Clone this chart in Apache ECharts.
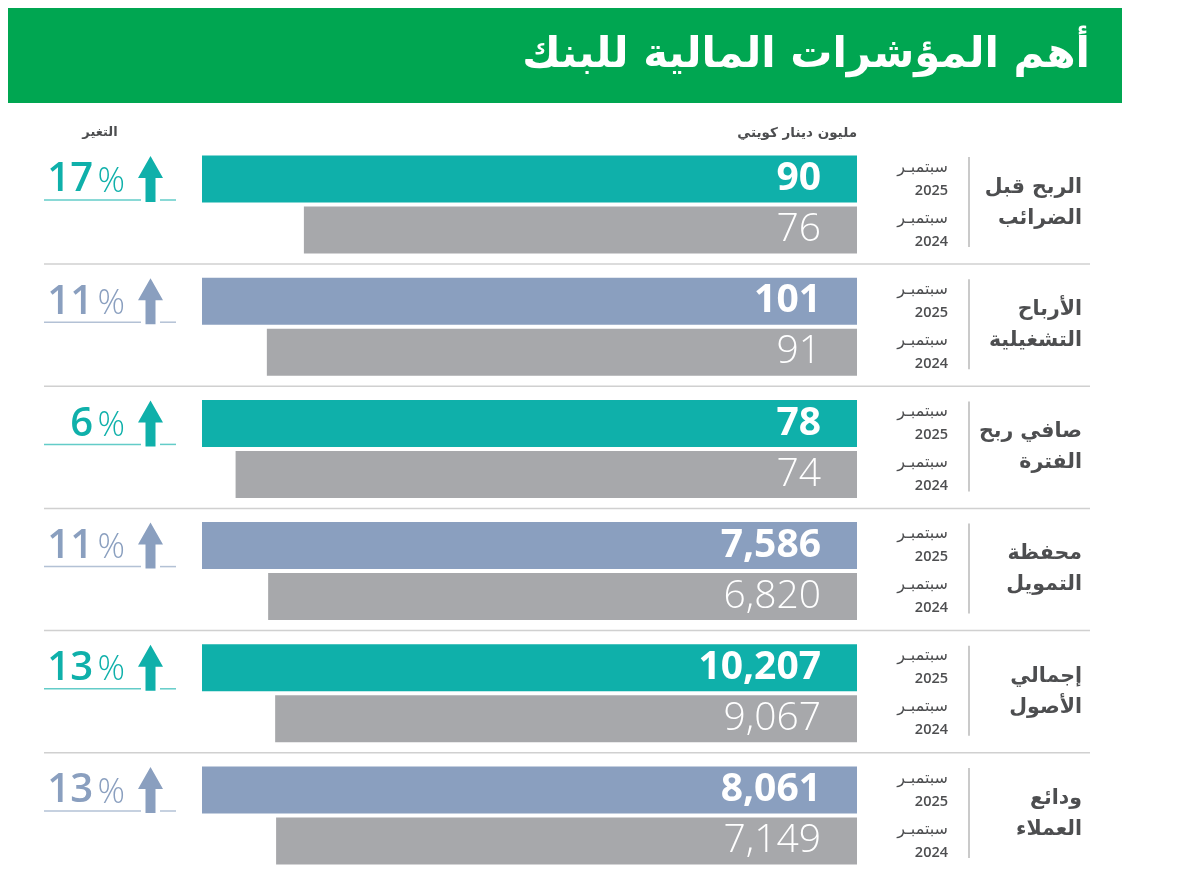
<!DOCTYPE html>
<html>
<head>
<meta charset="utf-8">
<script src="https://cdn.jsdelivr.net/npm/echarts@6/dist/echarts.min.js"></script>
<style>html,body{margin:0;padding:0;background:#fff;}#c{width:1200px;height:871px;}</style>
</head>
<body>
<div id="c"></div>
<script>
const titleText = 'أهم المؤشرات المالية للبنك';
const unitText = 'مليون دينار كويتي';
const changeHeader = 'التغير';
const categories = ['الربح قبل\nالضرائب', 'الأرباح\nالتشغيلية', 'صافي ربح\nالفترة', 'محفظة\nالتمويل', 'إجمالي\nالأصول', 'ودائع\nالعملاء'];
const periodMonth = 'سبتمبـر';
const periodYears = ['2025', '2024'];
const values2025 = [90, 101, 78, 7586, 10207, 8061];
const values2024 = [76, 91, 74, 6820, 9067, 7149];
const changePct = [17, 11, 6, 11, 13, 13];

const TEAL = '#0fb0aa', BLUE = '#8a9fbf', GRAY = '#a7a8ab';
const rowColors = [TEAL, BLUE, TEAL, BLUE, TEAL, BLUE];
const PITCH = 122.2, BAR_TOP0 = 156;
const AR = "'DejaVu Sans', sans-serif";
const NUM = "'Open Sans', sans-serif";
const TXT = '#4d4e50';

const grids = [], xAxes = [], yAxes = [], series = [], graphics = [];

graphics.push({type: 'rect', shape: {x: 8, y: 8, width: 1114, height: 95}, style: {fill: '#00a651'}, z: 0});
graphics.push({type: 'text', x: 1090, y: 56, style: {text: titleText, fill: '#fff', font: "bold 42px " + AR, textAlign: 'right', textVerticalAlign: 'middle'}});
graphics.push({type: 'text', x: 857, y: 133, style: {text: unitText, fill: TXT, font: "bold 13.5px " + AR, textAlign: 'right', textVerticalAlign: 'middle'}});
graphics.push({type: 'text', x: 100, y: 133, style: {text: changeHeader, fill: TXT, font: "bold 13px " + AR, textAlign: 'center', textVerticalAlign: 'middle'}});

categories.forEach((cat, i) => {
  const barTop = BAR_TOP0 + i * PITCH;
  const color = rowColors[i];
  grids.push({left: 202, right: 343, top: barTop - 2.5, height: 102});
  xAxes.push({gridIndex: i, type: 'value', inverse: true, min: 0, max: 'dataMax', show: false});
  yAxes.push({
    gridIndex: i, type: 'category', data: periodYears, inverse: true, position: 'right',
    axisLine: {show: false, onZero: false}, axisTick: {show: false}, splitLine: {show: false},
    axisLabel: {
      margin: 91, align: 'right', verticalAlign: 'middle',
      formatter: y => '{m|' + periodMonth + '}\n{y|' + y + '}',
      rich: {
        m: {fontFamily: AR, fontSize: 16, color: TXT, lineHeight: 23, align: 'right'},
        y: {fontFamily: NUM, fontSize: 14.5, fontWeight: 600, color: TXT, lineHeight: 23, align: 'right'}
      }
    }
  });
  series.push({
    type: 'bar', xAxisIndex: i, yAxisIndex: i, barWidth: 47, silent: true,
    data: [
      {value: values2025[i], itemStyle: {color: color},
       label: {fontFamily: NUM, fontWeight: 700, fontSize: 39}},
      {value: values2024[i], itemStyle: {color: GRAY},
       label: {fontFamily: NUM, fontWeight: 300, fontSize: 39}}
    ],
    label: {show: true, position: 'insideRight', distance: 36, color: '#fff',
      formatter: p => p.value.toLocaleString('en-US')}
  });

  // category name and vertical divider
  graphics.push({type: 'line', shape: {x1: 969, y1: barTop + 1, x2: 969, y2: barTop + 91}, style: {stroke: '#b8b8b8', lineWidth: 1.5}});
  graphics.push({type: 'text', x: 1082, y: barTop + 47, style: {text: cat, fill: TXT, font: "bold 20.5px " + AR, textAlign: 'right', textVerticalAlign: 'middle', lineHeight: 31}});

  // change indicator
  graphics.push({type: 'text', x: 93, y: barTop + 44, style: {
    text: String(changePct[i]), fill: color, font: "600 40px " + NUM, textAlign: 'right', textVerticalAlign: 'bottom'}});
  graphics.push({type: 'text', x: 97.5, y: barTop + 43, style: {
    text: '%', fill: color, font: "300 34px " + NUM, textAlign: 'left', textVerticalAlign: 'bottom'}});
  graphics.push({type: 'line', shape: {x1: 44, y1: barTop + 44, x2: 141, y2: barTop + 44}, style: {stroke: color, lineWidth: 1.5, opacity: 0.65}});
  graphics.push({type: 'line', shape: {x1: 160, y1: barTop + 44, x2: 176, y2: barTop + 44}, style: {stroke: color, lineWidth: 1.5, opacity: 0.65}});
  const cx = 150.5, t = barTop;
  graphics.push({type: 'polygon', shape: {points: [
    [cx, t], [cx + 12.5, t + 22], [cx + 5, t + 22], [cx + 5, t + 46], [cx - 5, t + 46], [cx - 5, t + 22], [cx - 12.5, t + 22]
  ]}, style: {fill: color}});

  if (i < categories.length - 1) {
    graphics.push({type: 'line', shape: {x1: 44, y1: barTop + 108, x2: 1090, y2: barTop + 108}, style: {stroke: '#d0d0d0', lineWidth: 1.5}});
  }
});

const chart = echarts.init(document.getElementById('c'), null, {renderer: 'canvas'});
chart.setOption({
  animation: false,
  grid: grids, xAxis: xAxes, yAxis: yAxes, series: series,
  graphic: graphics
});
</script>
</body>
</html>
